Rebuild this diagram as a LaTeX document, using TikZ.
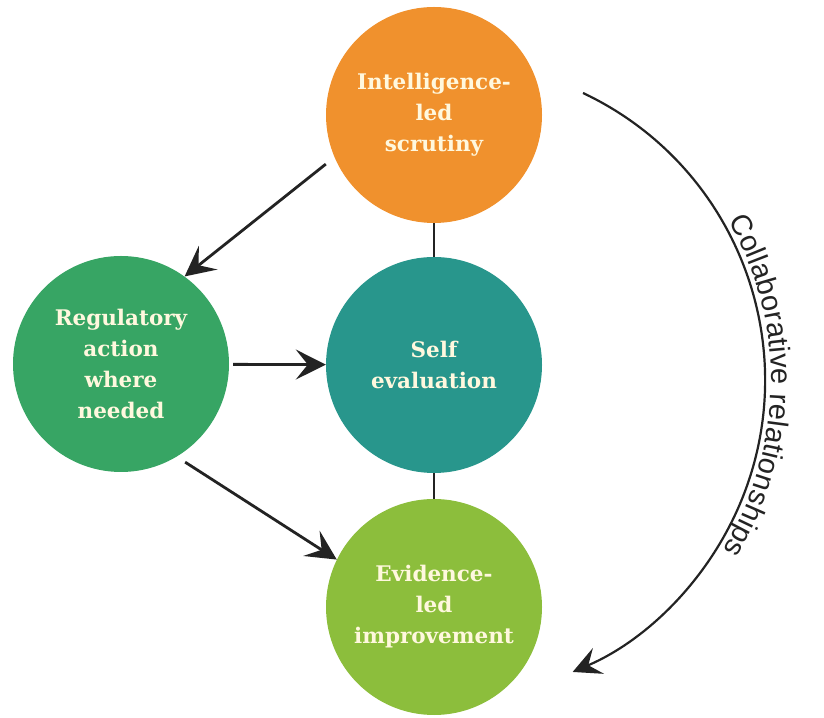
\documentclass[tikz,border=0pt]{standalone}
\usepackage{fontspec}
\usetikzlibrary{arrows.meta,decorations.text}
\newfontfamily\circlefont{DejaVu Serif}
\newfontfamily\arcfont{Liberation Sans}
\definecolor{scrutiny}{RGB}{240,145,45}
\definecolor{regulate}{RGB}{55,165,100}
\definecolor{selfeval}{RGB}{40,150,140}
\definecolor{improve}{RGB}{140,190,60}
\definecolor{cream}{RGB}{255,248,222}
\definecolor{linegray}{RGB}{35,35,35}

\begin{document}
\begin{tikzpicture}[x=1pt,y=1pt,
        stage/.style={circle, minimum size=216pt, inner sep=0pt, align=center, text=cream,
            font=\circlefont\bfseries\fontsize{21.5}{31}\selectfont},
        link/.style={draw=linegray, line width=2.8pt},
        flow/.style={link, -{Stealth[length=30pt,width=30pt,inset=12pt]}}]
        \useasboundingbox (0,0) rectangle (824,717);
        \node[stage, fill=scrutiny] (1) at (434,602) {Intelligence-\\led\\scrutiny};
        \node[stage, fill=regulate] (2) at (121,353) {Regulatory\\action\\where\\needed};
        \node[stage, fill=selfeval] (3) at (434,352) {Self\\evaluation};
        \node[stage, fill=improve] (4) at (434,110) {Evidence-\\led\\improvement};
        \coordinate (5) at (583,624);

        \path[link] (1) -- (3);
        \path[link] (3) -- (4);

        \path[flow, shorten <=11pt] (1.203) -- (2.54);
        \path[flow, shorten <=4pt] (2) -- (3);
        \path[flow, shorten <=10pt] (2.-59) -- (4.154);

        \path[draw=linegray, line width=2.2pt, -{Stealth[length=28pt,width=28pt,inset=11pt]}]
            (5) arc[start angle=64.75, end angle=-66.8, radius=317.5];
        \path[decorate, decoration={text along path, text align=center, raise=6pt,
            text={|\arcfont\fontsize{29}{34}\selectfont\color{linegray}|Collaborative relationships}}]
            (5) arc[start angle=64.75, end angle=-66.8, radius=317.5];
    \end{tikzpicture}
\end{document}
